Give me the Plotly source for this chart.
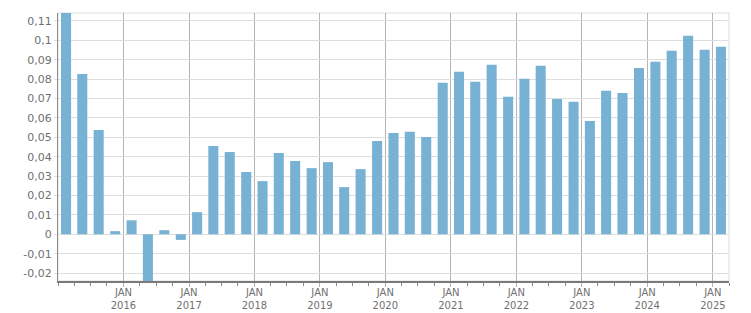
import plotly.graph_objects as go
import pandas as pd

# Quarterly data, 2015 Q1 .. 2025 Q1
quarters = [str(p) for p in pd.period_range("2015Q1", "2025Q1", freq="Q")]
values = [
    0.1141, 0.0827, 0.0538, 0.0016,
    0.0072, -0.0241, 0.0021, -0.0029,
    0.0114, 0.0455, 0.0424, 0.0321,
    0.0274, 0.0419, 0.0378, 0.0341,
    0.0372, 0.0243, 0.0336, 0.0481,
    0.0522, 0.0528, 0.0502, 0.0781,
    0.0838, 0.0786, 0.0874, 0.0709,
    0.0802, 0.0869, 0.0698, 0.0683,
    0.0584, 0.0740, 0.0729, 0.0858,
    0.0890, 0.0946, 0.1024, 0.0952,
    0.0967,
]
x_tick_vals = ["%d-01-01" % y for y in range(2016, 2026)]
x_tick_text = ["JAN<br>%d" % y for y in range(2016, 2026)]
y_tick_vals = [-0.02, -0.01, 0, 0.01, 0.02, 0.03, 0.04, 0.05, 0.06, 0.07, 0.08, 0.09, 0.1, 0.11]
y_tick_text = ["-0,02", "-0,01", "0", "0,01", "0,02", "0,03", "0,04", "0,05", "0,06", "0,07", "0,08", "0,09", "0,1", "0,11"]

x_dates = [pd.Period(q, freq="Q").start_time.strftime("%Y-%m-%d") for q in quarters]

DAY_MS = 86400000
fig = go.Figure()
fig.add_trace(go.Bar(
    x=x_dates, y=values,
    xperiod="M3", xperiodalignment="middle",
    width=56 * DAY_MS,
    marker=dict(color="#77b1d4", line=dict(width=0)),
    hoverinfo="x+y",
))

font_color = "#707070"
fig.update_layout(
    width=751, height=313,
    margin=dict(l=58, r=22, t=13, b=32, autoexpand=False),
    paper_bgcolor="white", plot_bgcolor="white",
    showlegend=False,
    font=dict(family="DejaVu Sans, Verdana, sans-serif", size=10, color=font_color),
    shapes=[dict(type="rect", xref="paper", yref="paper", x0=0, x1=1, y0=0, y1=1,
                 line=dict(color="#dcdcdc", width=1), layer="below")],
)
fig.update_xaxes(
    type="date",
    range=["2015-01-01", "2025-04-01"],
    tickmode="array", tickvals=x_tick_vals, ticktext=x_tick_text,
    showgrid=True, gridcolor="#b4b4b4", gridwidth=1,
    ticks="outside", ticklen=4, tickcolor="#b4b4b4",
    ticklabelstandoff=-3,
    showline=True, linecolor="#7a7a7a", linewidth=2,
    minor=dict(dtick="M3", tick0="2015-01-01", ticks="outside", ticklen=3,
               tickcolor="#8a8a8a", showgrid=False),
    automargin=False,
    tickfont=dict(size=10, color=font_color),
)
fig.update_yaxes(
    range=[-0.0241, 0.1141],
    tickmode="array", tickvals=y_tick_vals, ticktext=y_tick_text,
    showgrid=True, gridcolor="#dedede", gridwidth=1,
    zeroline=False,
    ticks="outside", ticklen=3, tickcolor="#dedede",
    showline=True, linecolor="#8a8a8a", linewidth=1,
    automargin=False,
    tickfont=dict(size=11, color=font_color),
)

fig.write_html("out.html")
